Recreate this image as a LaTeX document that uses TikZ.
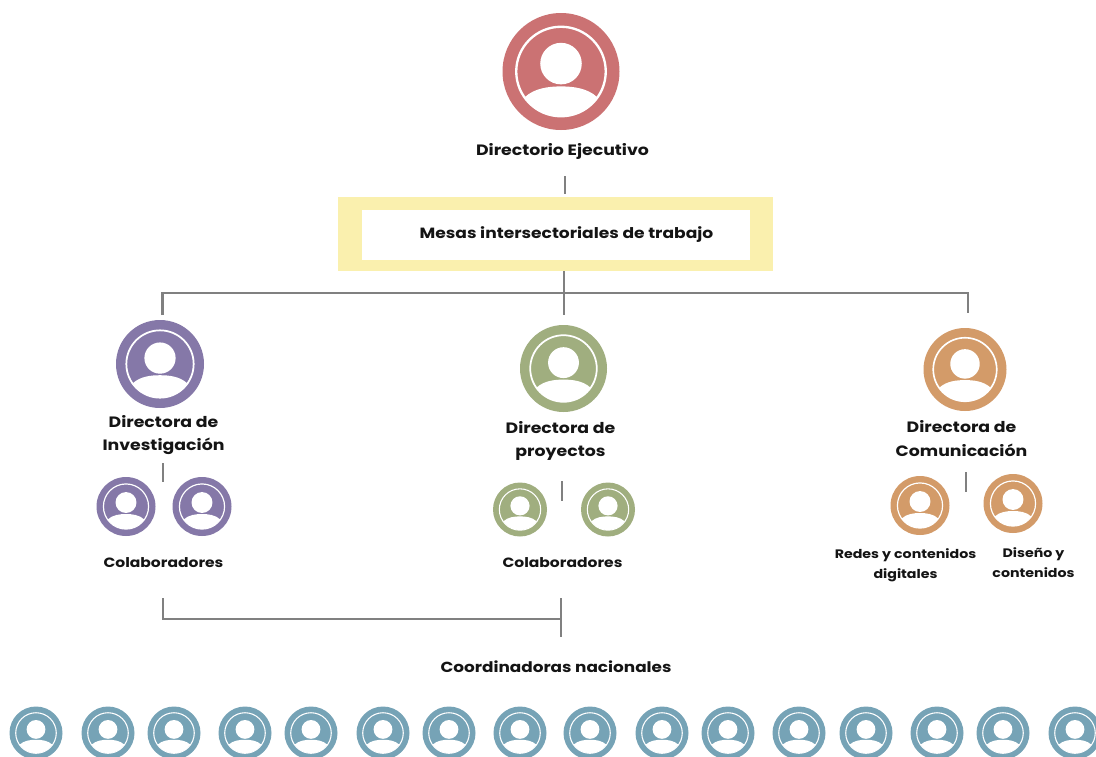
\documentclass[tikz,border=0pt]{standalone}
\usepackage{fontspec}
\setmainfont{Poppins}[BoldFont={Poppins Bold},BoldFeatures={FakeStretch=1.155}]
\definecolor{cred}{HTML}{CB7273}
\definecolor{cpurple}{HTML}{8578A8}
\definecolor{cgreen}{HTML}{A0AE7F}
\definecolor{corange}{HTML}{D39B69}
\definecolor{cblue}{HTML}{76A3B6}
\definecolor{cyellow}{HTML}{FAF0AE}
\definecolor{cline}{HTML}{808080}
\definecolor{ctext}{HTML}{141414}
\tikzset{
  x=1pt,y=-1pt,
  conn/.style={draw=cline,line width=2.3pt},
  lab/.style={font=\bfseries\fontsize{#1}{#1}\selectfont,text=ctext,align=center,inner sep=0pt},
  lab/.default=15,
}
% \person{name}{cx}{cy}{R}{colour}
\newcommand{\person}[5]{%
  \node[circle,fill=#5,minimum size=#4*2pt,inner sep=0pt] (#1) at (#2,#3) {};
  \begin{scope}[shift={(#2,#3)},x=#4pt,y=-#4pt]
    \draw[white,line width=#4*0.04pt] (0,0) circle[radius=0.765];
    \fill[white] (0,-0.135) circle[radius=0.355];
    \fill[white] (-0.62,0.44) .. controls (-0.45,0.28) and (-0.2,0.255) .. (0,0.255)
       .. controls (0.2,0.255) and (0.45,0.28) .. (0.62,0.44)
       arc[start angle=35.4,end angle=144.6,radius=0.76];
  \end{scope}
}
\begin{document}
\begin{tikzpicture}
\useasboundingbox (0,0) rectangle (1096,756);
\clip (0,0) rectangle (1096,756);
\fill[white] (0,0) rectangle (1096,756);
% top
\person{top}{561}{71.5}{58.5}{cred}
\node[lab] (ltop) at (562.5,151.5) {Directorio Ejecutivo};
% box
\node[fill=cyellow,minimum width=435pt,minimum height=74pt,inner sep=0pt] (mesa) at (555.5,234) {};
\node[fill=white,minimum width=388pt,minimum height=50pt,inner sep=0pt] (mesain) at (556,235) {};
\node[lab=14.8] (lmesa) at (566.5,235) {Mesas intersectoriales de trabajo};
% directors
\person{pur}{160}{364}{44}{cpurple}
\person{pura}{126}{506.5}{29.5}{cpurple}
\person{purb}{202}{506.5}{29.5}{cpurple}
\node[lab] (lpur) at (163.5,435) {Directora de\\[8.5pt]Investigación};
\node[lab=13.45] (lpurc) at (163.5,562.5) {Colaboradores};
\person{gre}{563.5}{368.5}{43.5}{cgreen}
\person{grea}{520}{509.5}{27}{cgreen}
\person{greb}{608}{509.5}{27}{cgreen}
\node[lab] (lgre) at (560.5,441) {Directora de\\[8.5pt]proyectos};
\node[lab=13.45] (lgrec) at (562.5,562.5) {Colaboradores};
\person{ora}{965}{369.5}{41.5}{corange}
\person{oraa}{920}{505.5}{29.5}{corange}
\person{orab}{1013}{503.5}{29.5}{corange}
\node[lab] (lora) at (961.5,438.5) {Directora de\\[8.5pt]Comunicación};
\node[lab=12.3] (loraa) at (905.5,565) {Redes y contenidos\\[5.5pt]digitales};
\node[lab=12.3] (lorab) at (1033.5,562.5) {Diseño y\\[5.5pt]contenidos};
\node[lab=14.6] (lcoord) at (556,666.5) {Coordinadoras nacionales};
% row
\foreach \n/\x in {1/36,2/108,3/174,4/245,5/311,6/383,7/449,8/520,9/590,10/662,11/728,12/799,13/866,14/937,15/1003,16/1075}{
  \person{n\n}{\x}{733}{26.5}{cblue}
}
% connector ends
\coordinate (a1) at (565,176);
\coordinate (a2) at (565,194);
\coordinate (b1) at (564,271);
\coordinate (b2) at (564,315);
\coordinate (bus) at (564,293);
\coordinate (c1) at (162.5,315);
\coordinate (d1) at (968,313);
\coordinate (e1) at (163,463);
\coordinate (e2) at (163,482);
\coordinate (f1) at (562,481);
\coordinate (f2) at (562,501);
\coordinate (g1) at (966,472);
\coordinate (g2) at (966,492);
\coordinate (h1) at (163,598);
\coordinate (h2) at (561,619);
\coordinate (i1) at (561,598);
\coordinate (i2) at (561,637);
\draw[conn] (a1) -- (a2);
\draw[conn] (b1) -- (b2);
\draw[conn] (c1) |- (bus) -| (d1);
\draw[conn] (e1) -- (e2);
\draw[conn] (f1) -- (f2);
\draw[conn] (g1) -- (g2);
\draw[conn] (h1) |- (h2);
\draw[conn] (i1) -- (i2);
\end{tikzpicture}
\end{document}
